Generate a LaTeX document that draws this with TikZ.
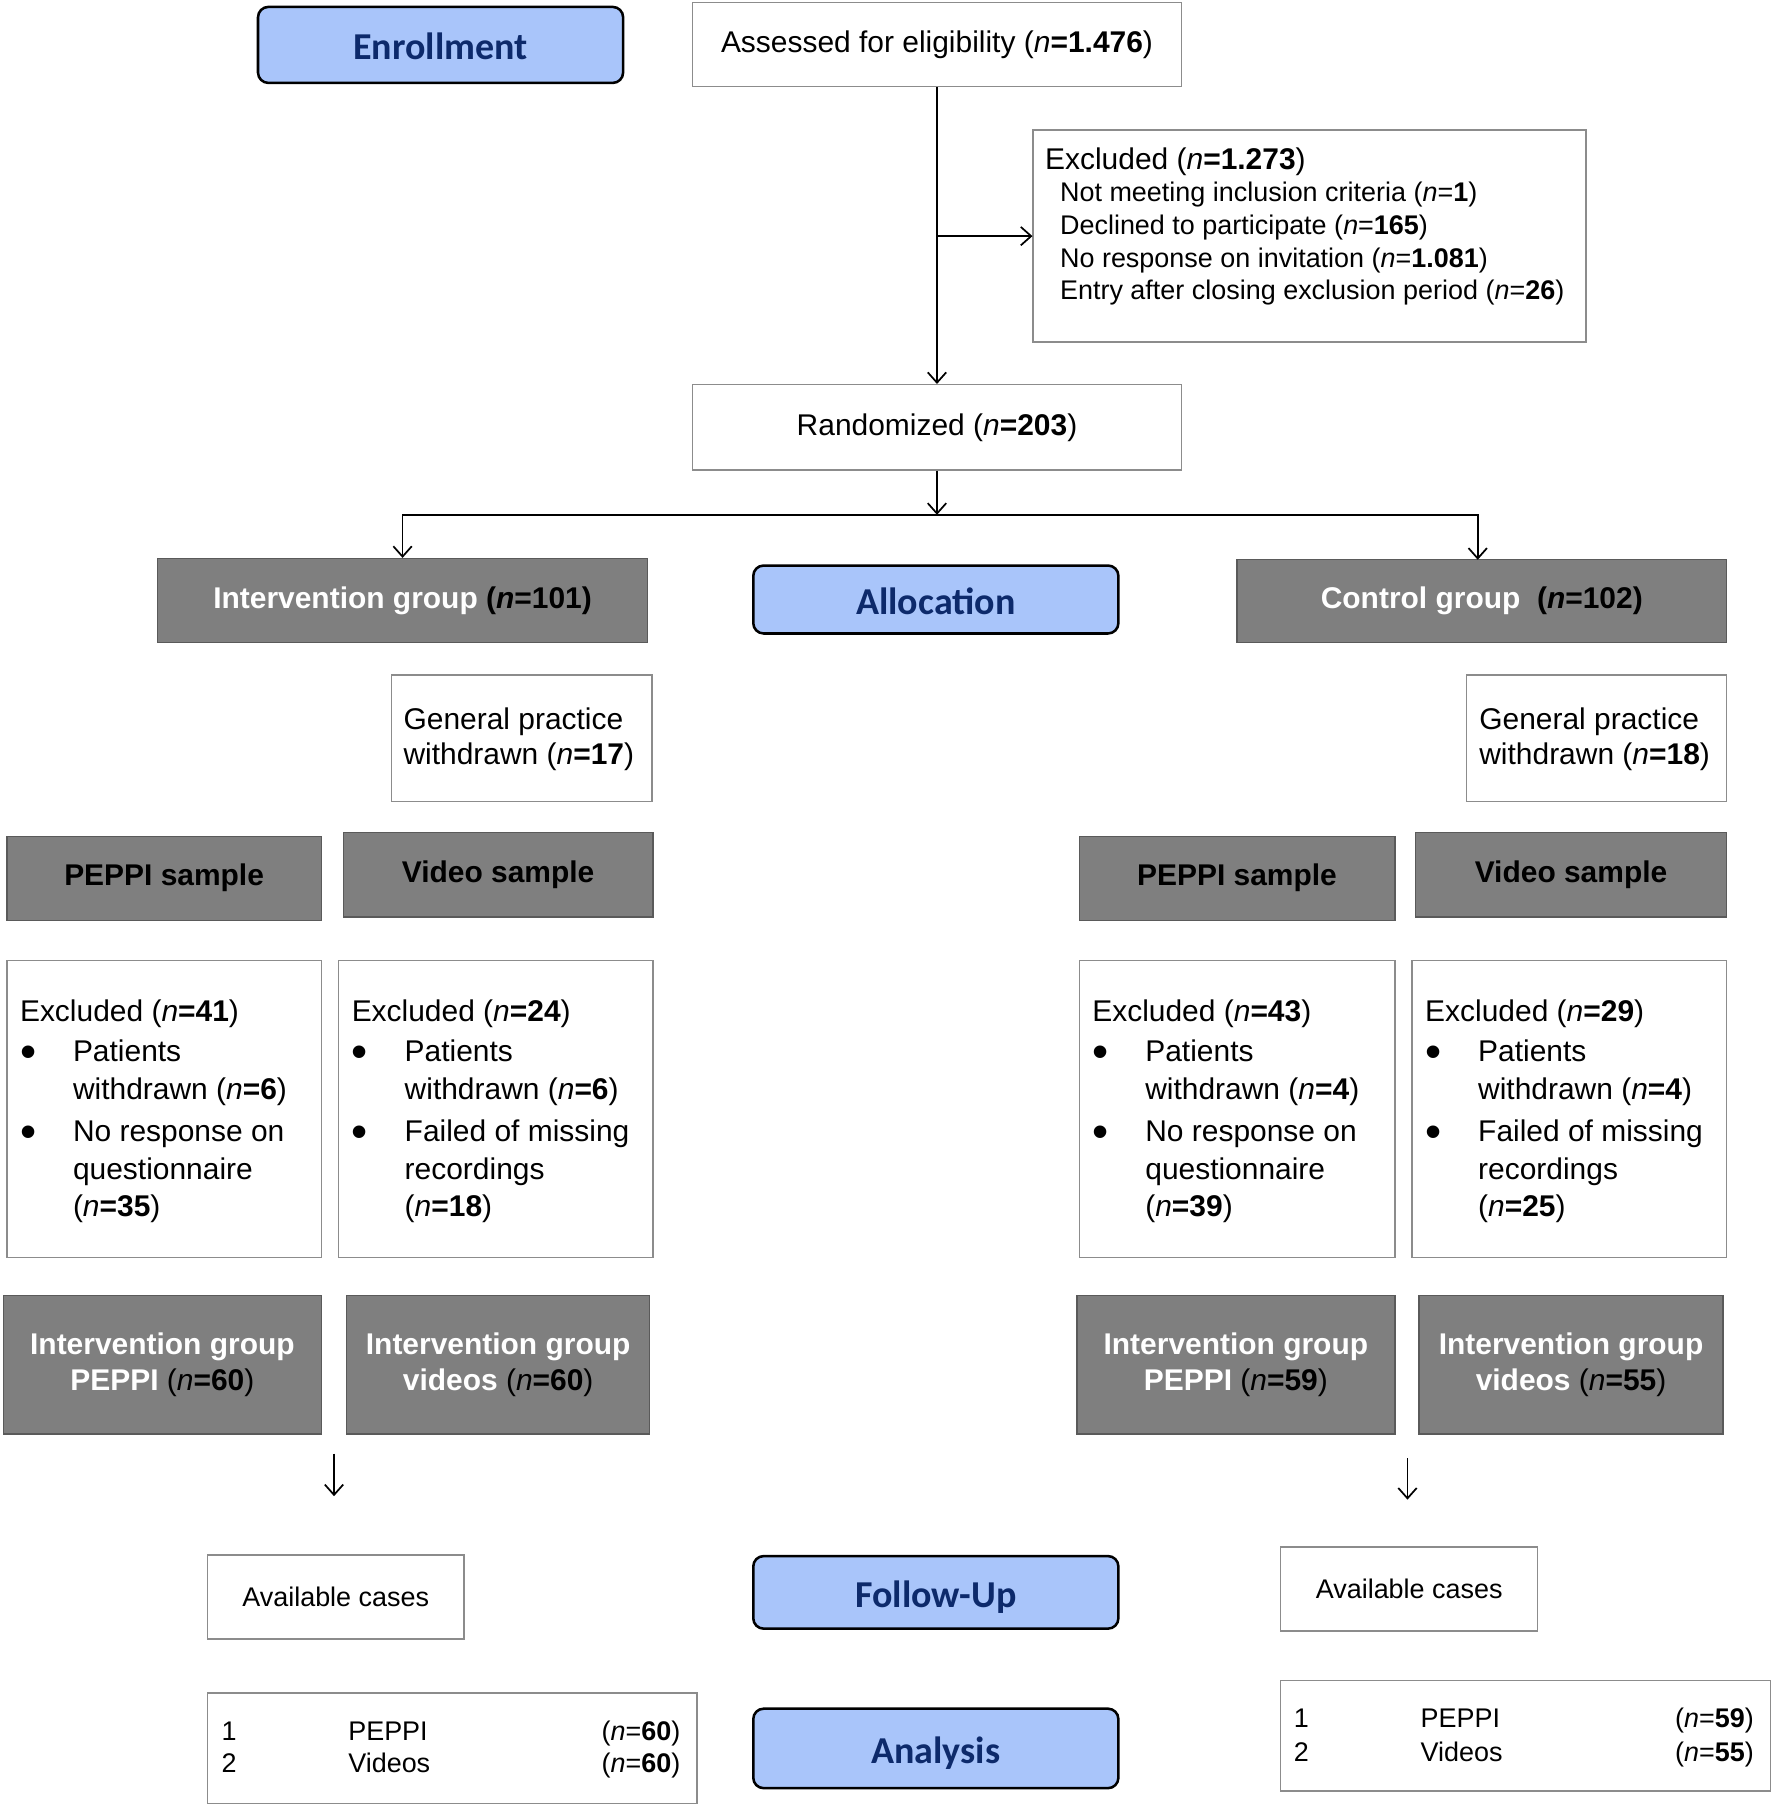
\documentclass[tikz,border=0pt]{standalone}
\usepackage{fontspec}
\setmainfont{Liberation Sans}
\newfontfamily\calibri{Carlito}
\usetikzlibrary{arrows.meta}
\definecolor{bluefill}{HTML}{A9C5FA}
\definecolor{navy}{HTML}{0D2A6B}
\definecolor{boxgray}{HTML}{7F7F7F}
\definecolor{edgegray}{HTML}{8C8C8C}
\definecolor{darkedge}{HTML}{5A5A5A}
\newcommand\nn[1]{(\textit{n}\textbf{=#1})}
\newcommand\bul{{\fontsize{20}{20}\selectfont •}}
\newcommand\exclist[7]{%
  \node[txt,anchor=base west] (#1h) at (#2,887) {Excluded \nn{#3}};
  \node[txt,anchor=base west] (#1ba) at (#2,927) {\bul};
  \node[txt,anchor=base west] (#1la) at (#2+46,922) {Patients};
  \node[txt,anchor=base west] (#1lb) at (#2+46,955) {withdrawn \nn{#4}};
  \node[txt,anchor=base west] (#1bb) at (#2,996) {\bul};
  \node[txt,anchor=base west] (#1lc) at (#2+46,991) {#5};
  \node[txt,anchor=base west] (#1ld) at (#2+46,1024) {#6};
  \node[txt,anchor=base west] (#1le) at (#2+46,1056) {\nn{#7}};
}
\begin{document}
\begin{tikzpicture}[x=0.5pt,y=-0.5pt,font=\fontsize{13}{15.6}\selectfont,
  sz/.style 2 args={minimum width={#1*0.5pt},minimum height={#2*0.5pt}},
  wbox/.style={draw=edgegray,line width=0.6pt,fill=white,inner sep=0pt},
  gbox/.style={draw=darkedge,line width=0.6pt,fill=boxgray,inner sep=0pt},
  gbold/.style={font=\bfseries\fontsize{13}{15.5}\selectfont},
  bbox/.style={draw=black,line width=1.1pt,fill=bluefill,rounded corners=4.5pt,inner sep=0pt,
    font=\calibri\bfseries\fontsize{16.5}{19}\selectfont,text=navy,text height=13pt,text depth=0pt},
  arr/.style={draw=black,line width=0.75pt,-{Straight Barb[length=4.5pt,width=8pt]}},
  txt/.style={inner sep=0pt},
  small/.style={font=\fontsize{11.7}{14}\selectfont}]
\useasboundingbox (0,0) rectangle (1540,1568);

% phase labels
\node[bbox,sz={317}{66}] (enroll) at (382.5,39) {Enrollment};
\node[bbox,sz={317}{59}] (alloc) at (812.5,520.5) {Allocation};
\node[bbox,sz={317}{63}] (follow) at (812.5,1382.5) {Follow-Up};
\node[bbox,sz={317}{69}] (analysis) at (812.5,1518) {Analysis};

% enrollment
\node[wbox,sz={425}{73}] (assess) at (813.5,38.5) {Assessed for eligibility \nn{1.476}};
\node[wbox,sz={480}{184}] (excl) at (1137,205) {};
\node[txt,anchor=base west] (exh) at (907,147) {Excluded \nn{1.273}};
\node[txt,small,anchor=base west] (ex1) at (920,175) {Not meeting inclusion criteria (\textit{n}=\textbf{1})};
\node[txt,small,anchor=base west] (ex2) at (920,204) {Declined to participate (\textit{n}=\textbf{165})};
\node[txt,small,anchor=base west] (ex3) at (920,232) {No response on invitation (\textit{n}=\textbf{1.081})};
\node[txt,small,anchor=base west] (ex4) at (920,260) {Entry after closing exclusion period (\textit{n}=\textbf{26})};
\node[wbox,sz={425}{74}] (rand) at (813.5,371) {Randomized \nn{203}};

% allocation
\node[gbox,gbold,sz={425}{73},text=white] (intv) at (349.5,521.5) {Intervention group {\color{black}(\textit{n}=101)}};
\node[gbox,gbold,sz={425}{72},text=white] (ctrl) at (1286.5,522) {Control group\ \ {\color{black}(\textit{n}=102)}};

\node[wbox,sz={226}{110}] (gpL) at (453,641) {};
\node[txt,anchor=base west] (gpLa) at (350,633) {General practice};
\node[txt,anchor=base west] (gpLb) at (350,664) {withdrawn \nn{17}};
\node[wbox,sz={226}{110}] (gpR) at (1386,641) {};
\node[txt,anchor=base west] (gpRa) at (1284,633) {General practice};
\node[txt,anchor=base west] (gpRb) at (1284,664) {withdrawn \nn{18}};

\node[gbox,gbold,sz={273}{73}] (peppiL) at (142.5,762.5) {PEPPI sample};
\node[gbox,gbold,sz={269}{73}] (videoL) at (432.5,759.5) {Video sample};
\node[gbox,gbold,sz={274}{73}] (peppiR) at (1074,762.5) {PEPPI sample};
\node[gbox,gbold,sz={270}{73}] (videoR) at (1364,759.5) {Video sample};

\node[wbox,sz={273}{258}] (exA) at (142.5,963) {};
\node[wbox,sz={273}{258}] (exB) at (430.5,963) {};
\node[wbox,sz={274}{258}] (exC) at (1074,963) {};
\node[wbox,sz={273}{258}] (exD) at (1362.5,963) {};
\exclist{exA}{17}{41}{6}{No response on}{questionnaire}{35}
\exclist{exB}{305}{24}{6}{Failed of missing}{recordings}{18}
\exclist{exC}{948}{43}{4}{No response on}{questionnaire}{39}
\exclist{exD}{1237}{29}{4}{Failed of missing}{recordings}{25}

\node[gbox,gbold,sz={276}{120},text=white,align=center] (igpL) at (141,1185)
  {Intervention group\\PEPPI {\color{black}\mdseries(\textit{n}\textbf{=60})}};
\node[gbox,gbold,sz={263}{120},text=white,align=center] (igvL) at (432.5,1185)
  {Intervention group\\videos {\color{black}\mdseries(\textit{n}\textbf{=60})}};
\node[gbox,gbold,sz={276}{120},text=white,align=center] (igpR) at (1073,1185)
  {Intervention group\\PEPPI {\color{black}\mdseries(\textit{n}\textbf{=59})}};
\node[gbox,gbold,sz={264}{120},text=white,align=center] (igvR) at (1364,1185)
  {Intervention group\\videos {\color{black}\mdseries(\textit{n}\textbf{=55})}};

% follow-up
\node[wbox,small,sz={223}{73}] (availL) at (291.5,1386.5) {Available cases};
\node[wbox,small,sz={223}{73}] (availR) at (1223.5,1379.5) {Available cases};

% analysis
\node[wbox,sz={425}{96}] (anL) at (392.5,1518) {};
\node[txt,small,anchor=base west] (anL1a) at (192,1511) {1};
\node[txt,small,anchor=base west] (anL1b) at (302,1511) {PEPPI};
\node[txt,small,anchor=base east] (anL1c) at (591,1511) {(\textit{n}=\textbf{60})};
\node[txt,small,anchor=base west] (anL2a) at (192,1539) {2};
\node[txt,small,anchor=base west] (anL2b) at (302,1539) {Videos};
\node[txt,small,anchor=base east] (anL2c) at (591,1539) {(\textit{n}=\textbf{60})};
\node[wbox,sz={425}{96}] (anR) at (1324.5,1507) {};
\node[txt,small,anchor=base west] (anR1a) at (1123,1500) {1};
\node[txt,small,anchor=base west] (anR1b) at (1233,1500) {PEPPI};
\node[txt,small,anchor=base east] (anR1c) at (1523,1500) {(\textit{n}=\textbf{59})};
\node[txt,small,anchor=base west] (anR2a) at (1123,1529) {2};
\node[txt,small,anchor=base west] (anR2b) at (1233,1529) {Videos};
\node[txt,small,anchor=base east] (anR2c) at (1523,1529) {(\textit{n}=\textbf{55})};

% connectors
\draw[arr] (assess.south) -- (rand.north);
\draw[arr] (assess.south |- excl.west) -- (excl.west);
\coordinate (split) at (813.5,447);
\coordinate (ctrlin) at (1283,486);
\draw[arr] (rand.south) -- (split);
\draw[arr] (split) -| (intv.north);
\draw[arr] (split) -| (ctrlin);
\coordinate (faLs) at (290,1262);
\coordinate (faLe) at (290,1299);
\coordinate (faRs) at (1222,1266);
\coordinate (faRe) at (1222,1302);
\draw[arr] (faLs) -- (faLe);
\draw[arr] (faRs) -- (faRe);
\end{tikzpicture}
\end{document}
